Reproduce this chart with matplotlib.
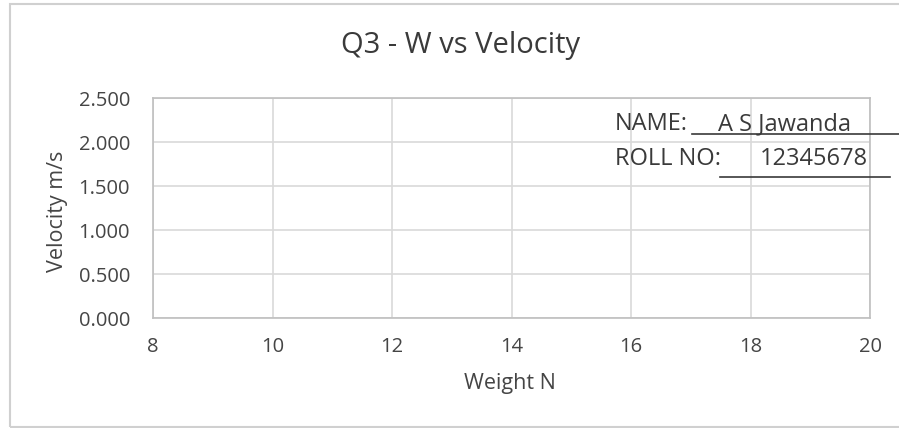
import matplotlib.pyplot as plt
from matplotlib.lines import Line2D
from matplotlib.patches import Rectangle

title = 'Q3 - W vs Velocity'
x_label = 'Weight N'
y_label = 'Velocity m/s'
x_ticks = [8, 10, 12, 14, 16, 18, 20]
y_ticks = [0.0, 0.5, 1.0, 1.5, 2.0, 2.5]
weight = []
velocity = []
name = 'A S Jawanda'
roll_no = '12345678'

text_col = '#454545'
grid_col = '#d9d9d9'


def draw_graph():
    plt.rcParams['font.family'] = ['Open Sans', 'DejaVu Sans']
    fig = plt.figure(figsize=(8.99, 4.28), dpi=100)
    ax = fig.add_axes([153 / 899, 1 - 318 / 428, (870 - 153) / 899, (318 - 98) / 428])

    ax.plot(weight, velocity, marker='o', color='#4472c4')
    ax.set_xlim(x_ticks[0], x_ticks[-1])
    ax.set_ylim(y_ticks[0], y_ticks[-1])
    ax.set_xticks(x_ticks)
    ax.set_yticks(y_ticks)
    ax.set_yticklabels(['%.3f' % v for v in y_ticks])
    ax.grid(True, color=grid_col, linewidth=1.2)
    ax.set_axisbelow(True)
    for s in ax.spines.values():
        s.set_color('#bfbfbf')
        s.set_linewidth(1.2)
    ax.tick_params(length=0, labelsize=14.5, colors=text_col)
    ax.tick_params(axis='x', pad=14)
    ax.tick_params(axis='y', pad=16.5)

    fig.text(0.512, 1 - 46 / 428, title, ha='center', va='center', fontsize=21, color='#3a3a3a')
    fig.text(510 / 899, 1 - 383 / 428, x_label, ha='center', va='center', fontsize=15.5, color=text_col)
    fig.text(58 / 899, 1 - 211 / 428, y_label, ha='center', va='center', rotation=90, fontsize=15.5, color=text_col)

    # name / roll number box
    fig.text(615 / 899, 1 - 130 / 428, 'NAME:', ha='left', va='baseline', fontsize=17, color='#3a3a3a')
    fig.text(718 / 899, 1 - 130 / 428, name, ha='left', va='baseline', fontsize=17, color='#3a3a3a')
    fig.text(615 / 899, 1 - 165 / 428, 'ROLL NO:', ha='left', va='baseline', fontsize=17, color='#3a3a3a')
    fig.text(760 / 899, 1 - 165 / 428, roll_no, ha='left', va='baseline', fontsize=17, color='#3a3a3a')
    fig.add_artist(Line2D([692 / 899, 1.0], [1 - 134 / 428] * 2, color='#3a3a3a', linewidth=1.2))
    fig.add_artist(Line2D([720 / 899, 890 / 899], [1 - 177 / 428] * 2, color='#3a3a3a', linewidth=1.2))

    # chart area border
    fig.add_artist(Rectangle((10 / 899, 1 / 428), 1.2, 1 - 5 / 428, transform=fig.transFigure,
                             fill=False, edgecolor='#d0d0d0', linewidth=1.5))

    fig.savefig('out.png', dpi=100, facecolor='white')


if __name__ == '__main__':
    draw_graph()
